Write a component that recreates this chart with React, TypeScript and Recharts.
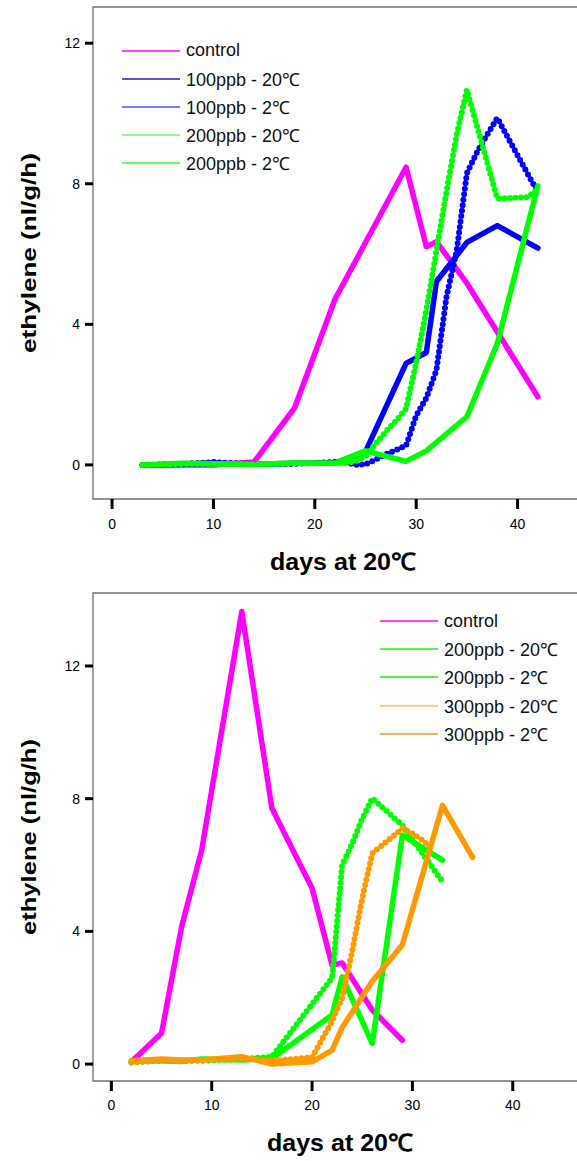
import React from 'react';
import { LineChart, Line, XAxis, YAxis, ReferenceArea, Legend } from 'recharts';

const FONT = '"Liberation Sans", Arial, Helvetica, sans-serif';

// ---- upper panel: control, 100 ppb, 200 ppb ----
const ctrlDaysA = [3, 7, 10, 14, 18, 22, 29, 31, 32, 35, 42];
const ctrlValsA = [0, 0, 0, 0.08, 1.62, 4.72, 8.47, 6.21, 6.35, 5.17, 1.94];

const p100w20Days = [3, 7, 10, 14, 18, 22, 23, 24, 25, 26, 27, 28, 29, 30, 31, 32, 33, 34, 35, 36, 37, 38, 42];
const p100w20Vals = [0, 0.03, 0.08, 0.02, 0.03, 0.08, 0.08, 0, 0.02, 0.15, 0.3, 0.42, 0.55, 1.4, 1.9, 2.7, 4.8, 6.1, 8.3, 8.9, 9.4, 9.87, 7.75];

const p100w2Days = [3, 7, 10, 14, 18, 22, 25, 29, 31, 32, 35, 38, 42];
const p100w2Vals = [0, 0.02, 0.05, 0.02, 0.05, 0.05, 0.38, 2.89, 3.2, 5.22, 6.33, 6.81, 6.17];

const p200w20DaysA = [3, 7, 10, 14, 18, 22, 23, 24, 25, 26, 27, 28, 29, 30, 31, 32, 33, 34, 35, 38, 41, 42];
const p200w20ValsA = [0, 0.03, 0.03, 0.02, 0.05, 0.05, 0.05, 0.1, 0.25, 0.6, 0.95, 1.25, 1.6, 2.9, 4.4, 6.1, 7.8, 9.4, 10.67, 7.58, 7.62, 7.85];

const p200w2DaysA = [3, 7, 10, 14, 18, 22, 25, 29, 31, 35, 38, 42];
const p200w2ValsA = [0, 0.05, 0.03, 0.02, 0.05, 0.05, 0.4, 0.1, 0.4, 1.37, 3.45, 7.94];

// ---- lower panel: control, 200 ppb, 300 ppb ----
const ctrlDaysB = [2, 5, 7, 9, 13, 16, 20, 22, 23, 26, 29];
const ctrlValsB = [0.07, 0.93, 4.14, 6.45, 13.64, 7.71, 5.3, 2.98, 3.05, 1.63, 0.72];

const p200w20DaysB = [2, 5, 7, 9, 13, 16, 22, 23, 24, 25, 26, 29, 33];
const p200w20ValsB = [0.05, 0.1, 0.1, 0.1, 0.15, 0.22, 2.6, 6.0, 6.65, 7.4, 8.01, 7.2, 5.5];

const p200w2DaysB = [2, 5, 7, 9, 13, 16, 22, 23, 26, 29, 33];
const p200w2ValsB = [0.1, 0.1, 0.08, 0.15, 0.12, 0.17, 1.48, 2.63, 0.62, 6.9, 6.15];

const p300w20Days = [2, 5, 7, 9, 13, 16, 20, 21, 22, 23, 24, 25, 26, 27, 28, 29, 30, 31, 32];
const p300w20Vals = [0.05, 0.12, 0.1, 0.12, 0.18, 0.1, 0.2, 0.75, 1.3, 2.0, 3.4, 5.0, 6.35, 6.6, 6.85, 7.1, 6.95, 6.75, 6.5];

const p300w2Days = [2, 5, 7, 9, 13, 16, 20, 22, 23, 26, 29, 33, 36];
const p300w2Vals = [0.1, 0.15, 0.12, 0.12, 0.22, 0, 0.07, 0.42, 1.1, 2.5, 3.6, 7.8, 6.23];

const xTicks = [0, 10, 20, 30, 40];
const yTicks = [0, 4, 8, 12];

type Series = {
  name: string;
  days: number[];
  vals: number[];
  color: string;
  legendColor: string;
  dotted: boolean;
};

const toPoints = (days: number[], vals: number[]) => days.map((day, i) => ({ day, value: vals[i] }));

const seriesA: Series[] = [
  { name: 'control', days: ctrlDaysA, vals: ctrlValsA, color: '#ff00ff', legendColor: '#ff00ff', dotted: false },
  { name: '100ppb - 20℃', days: p100w20Days, vals: p100w20Vals, color: '#0000ff', legendColor: '#1c1cd8', dotted: true },
  { name: '100ppb - 2℃', days: p100w2Days, vals: p100w2Vals, color: '#0000ff', legendColor: '#5050ff', dotted: false },
  { name: '200ppb - 20℃', days: p200w20DaysA, vals: p200w20ValsA, color: '#00ff00', legendColor: '#66ff66', dotted: true },
  { name: '200ppb - 2℃', days: p200w2DaysA, vals: p200w2ValsA, color: '#00ff00', legendColor: '#33ff33', dotted: false },
];

const seriesB: Series[] = [
  { name: 'control', days: ctrlDaysB, vals: ctrlValsB, color: '#ff00ff', legendColor: '#ff00ff', dotted: false },
  { name: '200ppb - 20℃', days: p200w20DaysB, vals: p200w20ValsB, color: '#00ff00', legendColor: '#22ee22', dotted: true },
  { name: '200ppb - 2℃', days: p200w2DaysB, vals: p200w2ValsB, color: '#00ff00', legendColor: '#11ee11', dotted: false },
  { name: '300ppb - 20℃', days: p300w20Days, vals: p300w20Vals, color: '#ff9900', legendColor: '#ffbb66', dotted: true },
  { name: '300ppb - 2℃', days: p300w2Days, vals: p300w2Vals, color: '#ff9900', legendColor: '#ff9900', dotted: false },
];

const AxisTitle = ({ tx, ty, vertical, len, size, text }: any) => (
  <text
    x={tx}
    y={ty}
    transform={vertical ? `rotate(-90 ${tx} ${ty})` : undefined}
    textAnchor="middle"
    fontFamily={FONT}
    fontWeight="bold"
    fontSize={size}
    textLength={len}
    lengthAdjust="spacingAndGlyphs"
    fill="#000"
  >
    {text}
  </text>
);

const LegendBox = ({ items, rowH, lineLen }: { items: Series[]; rowH: number; lineLen: number }) => (
  <div style={{ fontFamily: FONT, fontSize: 18, color: '#111' }}>
    {items.map((s) => (
      <div key={s.name} style={{ display: 'flex', alignItems: 'center', height: rowH }}>
        <svg width={lineLen} height={4} style={{ display: 'block' }}>
          <line x1={0} x2={lineLen} y1={2} y2={2} stroke={s.legendColor} strokeWidth={1.6} />
        </svg>
        <span style={{ marginLeft: 6, whiteSpace: 'nowrap' }}>{s.name}</span>
      </div>
    ))}
  </div>
);

type PanelProps = {
  series: Series[];
  width: number;
  height: number;
  plotTop: number;
  plotRight: number;
  xAxisHeight: number;
  xDomain: [number, number];
  yDomain: [number, number];
  tickGap: number;
  legendLeft: number;
  legendTop: number;
  xTitle: { x: number; y: number };
  yTitleLen: number;
};

function Panel(p: PanelProps) {
  const yMid = p.plotTop + (p.height - p.plotTop - p.xAxisHeight) / 2;
  return (
    <LineChart
      width={p.width}
      height={p.height}
      margin={{ top: p.plotTop, right: p.width - p.plotRight, bottom: 0, left: 0 }}
    >
      <ReferenceArea
        x1={p.xDomain[0]}
        x2={p.xDomain[1]}
        y1={p.yDomain[0]}
        y2={p.yDomain[1]}
        fill="none"
        stroke="#707070"
        strokeWidth={1.3}
        ifOverflow="visible"
      />
      <XAxis
        type="number"
        dataKey="day"
        domain={p.xDomain}
        ticks={xTicks}
        allowDataOverflow
        height={p.xAxisHeight}
        axisLine={false}
        tickLine={{ stroke: '#000', strokeWidth: 3 }}
        tickSize={10}
        tickMargin={p.tickGap}
        tick={{ fill: '#000', fontSize: 14, fontFamily: FONT }}
        label={<AxisTitle tx={p.xTitle.x} ty={p.xTitle.y} len={146} size={24} text="days at 20℃" />}
      />
      <YAxis
        type="number"
        domain={p.yDomain}
        ticks={yTicks}
        allowDataOverflow
        width={93}
        axisLine={false}
        tickLine={{ stroke: '#000', strokeWidth: 3 }}
        tickSize={8}
        tickMargin={5}
        tick={{ fill: '#000', fontSize: 14, fontFamily: FONT }}
        label={<AxisTitle tx={36} ty={yMid} vertical len={p.yTitleLen} size={21} text="ethylene (nl/g/h)" />}
      />
      <Legend
        layout="vertical"
        align="center"
        verticalAlign="middle"
        content={() => <LegendBox items={p.series} rowH={28.2} lineLen={58} />}
        wrapperStyle={{ left: p.legendLeft, top: p.legendTop, width: 'auto', height: 'auto' }}
      />
      {p.series.map((s) => (
        <Line
          key={s.name}
          name={s.name}
          data={toPoints(s.days, s.vals)}
          dataKey="value"
          type="linear"
          stroke={s.color}
          strokeWidth={s.dotted ? 6 : 5.5}
          strokeDasharray={s.dotted ? '0 5.5' : undefined}
          strokeLinecap="round"
          strokeLinejoin="round"
          dot={false}
          activeDot={false}
          isAnimationActive={false}
        />
      ))}
    </LineChart>
  );
}

export default function App() {
  return (
    <div
      style={{
        position: 'absolute',
        left: 0,
        top: 0,
        width: 577,
        height: 1161,
        overflow: 'hidden',
        background: '#fff',
      }}
    >
      <div style={{ position: 'absolute', left: 0, top: 0 }}>
        <Panel
          series={seriesA}
          width={600}
          height={590}
          plotTop={7}
          plotRight={586}
          xAxisHeight={91}
          xDomain={[-1.88, 46.75]}
          yDomain={[-0.97, 13.03]}
          tickGap={10}
          legendLeft={122}
          legendTop={36.5}
          xTitle={{ x: 343, y: 570 }}
          yTitleLen={200}
        />
      </div>
      <div style={{ position: 'absolute', left: 0, top: 585 }}>
        <Panel
          series={seriesB}
          width={600}
          height={576}
          plotTop={8}
          plotRight={581}
          xAxisHeight={80}
          xDomain={[-1.83, 46.8]}
          yDomain={[-0.51, 14.2]}
          tickGap={9}
          legendLeft={380}
          legendTop={22}
          xTitle={{ x: 340, y: 566 }}
          yTitleLen={196}
        />
      </div>
    </div>
  );
}
